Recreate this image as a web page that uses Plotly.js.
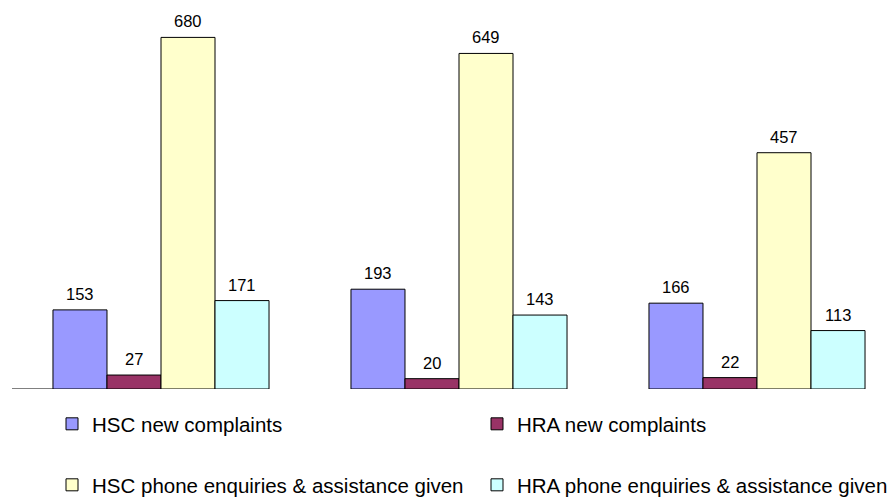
<!DOCTYPE html>
<html>
<head>
<meta charset="utf-8">
<script src="https://cdn.plot.ly/plotly-3.0.1.min.js"></script>
<style>
  html, body { margin: 0; padding: 0; background: #ffffff; }
  #chart { width: 893px; height: 498px; }
</style>
</head>
<body>
<div id="chart"></div>
<script>
// Three reporting periods, four measures each
const periods = ['Period 1', 'Period 2', 'Period 3'];

const seriesNames = [
  'HSC new complaints',
  'HRA new complaints',
  'HSC phone enquiries & assistance given',
  'HRA phone enquiries & assistance given'
];

const hscNewComplaints = [153, 193, 166];
const hraNewComplaints = [27, 20, 22];
const hscPhoneEnquiries = [680, 649, 457];
const hraPhoneEnquiries = [171, 143, 113];

const seriesValues = [hscNewComplaints, hraNewComplaints, hscPhoneEnquiries, hraPhoneEnquiries];
const seriesColors = ['#9999FF', '#993366', '#FFFFCC', '#CCFFFF'];
const legendRows = ['legend', 'legend', 'legend2', 'legend2'];

const FONT = '"Liberation Sans", Arial, sans-serif';
const BAR_GAP = 0.275;
const nSeries = seriesNames.length;
const barWidth = (1 - BAR_GAP) / nSeries;

const traces = seriesNames.map((name, i) => ({
  type: 'bar',
  name: name,
  x: periods,
  y: seriesValues[i],
  marker: { color: seriesColors[i], line: { color: '#000000', width: 1 } },
  legend: legendRows[i],
  hoverinfo: 'skip'
}));

// value labels above each bar, placed at the centre of its slot in the group
const valueLabels = [];
seriesValues.forEach((vals, i) => {
  vals.forEach((v, j) => {
    valueLabels.push({
      xref: 'x', yref: 'y',
      x: j + (i - (nSeries - 1) / 2) * barWidth,
      y: v,
      text: String(v),
      showarrow: false,
      xanchor: 'center',
      yanchor: 'bottom',
      yshift: 5,
      font: { family: FONT, size: 16.5, color: '#000000' }
    });
  });
});

const legendCommon = {
  orientation: 'h',
  xref: 'container',
  yref: 'container',
  xanchor: 'left',
  yanchor: 'middle',
  x: 52 / 893,
  font: { family: FONT, size: 20.5, color: '#000000' },
  entrywidth: 380,
  entrywidthmode: 'pixels',
  bgcolor: 'rgba(0,0,0,0)',
  borderwidth: 0,
  traceorder: 'normal'
};

const layout = {
  width: 893,
  height: 498,
  margin: { l: 12, r: 0, t: 10, b: 108.5 },
  paper_bgcolor: '#ffffff',
  plot_bgcolor: '#ffffff',
  barmode: 'group',
  bargap: BAR_GAP,
  bargroupgap: 0,
  showlegend: true,
  xaxis: {
    type: 'category',
    range: [-0.5, -0.5 + 881 / 298],
    showticklabels: false,
    showline: false,
    showgrid: false,
    zeroline: false,
    ticks: ''
  },
  yaxis: {
    range: [0, 733],
    visible: false,
    showgrid: false,
    zeroline: false
  },
  legend: Object.assign({}, legendCommon, { y: 1 - 424 / 498 }),
  legend2: Object.assign({}, legendCommon, { y: 1 - 485 / 498 }),
  annotations: valueLabels,
  shapes: [
    // axis stub from the left edge to the first bar
    {
      type: 'line', xref: 'x', yref: 'y',
      x0: -0.5, x1: -0.5 + BAR_GAP / 2, y0: 0, y1: 0,
      line: { color: '#000000', width: 1 }
    },
    // small tick at the left end of the axis
    {
      type: 'line', xref: 'x', yref: 'y',
      x0: -0.5, x1: -0.5,
      ysizemode: 'pixel', yanchor: 0, y0: 0, y1: -6,
      line: { color: '#000000', width: 1 }
    }
  ]
};

Plotly.newPlot('chart', traces, layout, { staticPlot: true, displayModeBar: false });
</script>
</body>
</html>
